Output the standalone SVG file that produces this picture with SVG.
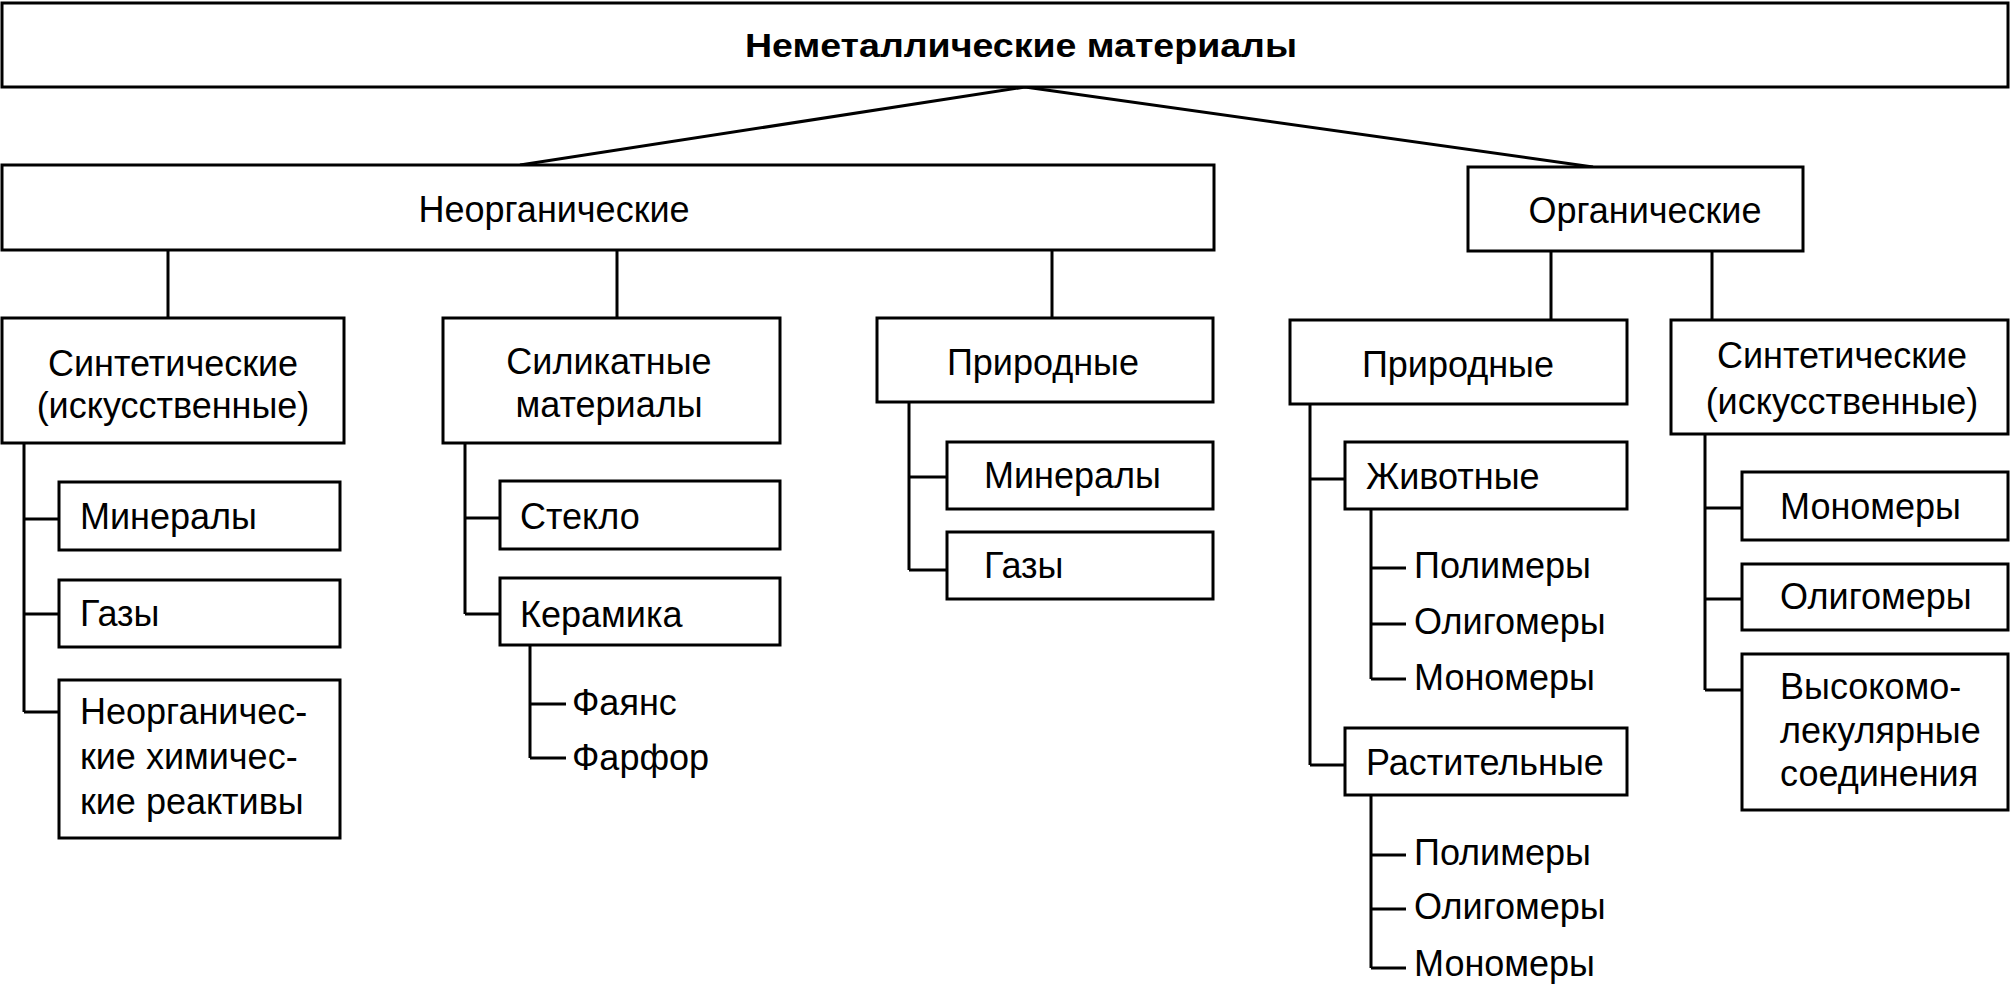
<svg xmlns="http://www.w3.org/2000/svg" width="2012" height="985" viewBox="0 0 2012 985">
<style>
.b{fill:#fff;stroke:#000;stroke-width:3}
.c{fill:none;stroke:#000;stroke-width:3}
text{font-family:"Liberation Sans",Arial,sans-serif;font-size:36px;fill:#000}
.t{font-weight:bold;font-size:33px}
.m{text-anchor:middle}
</style>
<rect width="2012" height="985" fill="#fff"/>
<g id="connectors">
<path class="c" d="M1025 87L520 165M1025 87L1593 167"/>
<path class="c" d="M168 250V318M617 250V318M1052 250V318M1551 251V320M1712 251V320"/>
<path class="c" d="M24 443V712M24 519H59M24 614H59M24 712H59"/>
<path class="c" d="M465 443V614M465 518H500M465 614H500"/>
<path class="c" d="M530 645V758M530 704H566M530 758H566"/>
<path class="c" d="M909 402V570M909 477H947M909 570H947"/>
<path class="c" d="M1310 404V765M1310 479H1345M1310 765H1345"/>
<path class="c" d="M1371 509V679M1371 568H1406M1371 624H1406M1371 679H1406"/>
<path class="c" d="M1371 795V968M1371 855H1406M1371 909H1406M1371 968H1406"/>
<path class="c" d="M1705 434V690M1705 508H1742M1705 599H1742M1705 690H1742"/>
</g>
<g id="root"><rect class="b" x="2" y="3" width="2006" height="84"/><text class="t m" x="1021" y="57" textLength="552" lengthAdjust="spacingAndGlyphs">Неметаллические материалы</text></g>
<g id="inorganic"><rect class="b" x="2" y="165" width="1212" height="85"/><text class="m" x="554" y="222">Неорганические</text></g>
<g id="organic"><rect class="b" x="1468" y="167" width="335" height="84"/><text class="m" x="1645" y="223">Органические</text></g>
<g id="inorg-synth"><rect class="b" x="2" y="318" width="342" height="125"/><text class="m" x="173" y="376">Синтетические</text><text class="m" x="173" y="418">(искусственные)</text></g>
<g id="inorg-synth-min"><rect class="b" x="59" y="482" width="281" height="68"/><text x="80" y="529">Минералы</text></g>
<g id="inorg-synth-gas"><rect class="b" x="59" y="580" width="281" height="67"/><text x="80" y="626">Газы</text></g>
<g id="inorg-synth-reag"><rect class="b" x="59" y="680" width="281" height="158"/><text x="80" y="724">Неорганичес-</text><text x="80" y="769">кие химичес-</text><text x="80" y="814">кие реактивы</text></g>
<g id="silicate"><rect class="b" x="443" y="318" width="337" height="125"/><text class="m" x="609" y="374">Силикатные</text><text class="m" x="609" y="417">материалы</text></g>
<g id="glass"><rect class="b" x="500" y="481" width="280" height="68"/><text x="520" y="529">Стекло</text></g>
<g id="ceramics"><rect class="b" x="500" y="578" width="280" height="67"/><text x="520" y="627">Керамика</text></g>
<g id="faience"><text x="572" y="715">Фаянс</text></g>
<g id="porcelain"><text x="572" y="770">Фарфор</text></g>
<g id="inorg-natural"><rect class="b" x="877" y="318" width="336" height="84"/><text class="m" x="1043" y="375">Природные</text></g>
<g id="inorg-nat-min"><rect class="b" x="947" y="442" width="266" height="67"/><text x="984" y="488">Минералы</text></g>
<g id="inorg-nat-gas"><rect class="b" x="947" y="532" width="266" height="67"/><text x="984" y="578">Газы</text></g>
<g id="org-natural"><rect class="b" x="1290" y="320" width="337" height="84"/><text class="m" x="1458" y="377">Природные</text></g>
<g id="animal"><rect class="b" x="1345" y="442" width="282" height="67"/><text x="1366" y="489">Животные</text></g>
<g id="animal-poly"><text x="1414" y="578">Полимеры</text></g>
<g id="animal-olig"><text x="1414" y="634">Олигомеры</text></g>
<g id="animal-mono"><text x="1414" y="690">Мономеры</text></g>
<g id="plant"><rect class="b" x="1345" y="728" width="282" height="67"/><text x="1366" y="775">Растительные</text></g>
<g id="plant-poly"><text x="1414" y="865">Полимеры</text></g>
<g id="plant-olig"><text x="1414" y="919">Олигомеры</text></g>
<g id="plant-mono"><text x="1414" y="976">Мономеры</text></g>
<g id="org-synth"><rect class="b" x="1671" y="320" width="337" height="114"/><text class="m" x="1842" y="368">Синтетические</text><text class="m" x="1842" y="414">(искусственные)</text></g>
<g id="org-synth-mono"><rect class="b" x="1742" y="472" width="266" height="68"/><text x="1780" y="519">Мономеры</text></g>
<g id="org-synth-olig"><rect class="b" x="1742" y="564" width="266" height="66"/><text x="1780" y="609">Олигомеры</text></g>
<g id="org-synth-hmw"><rect class="b" x="1742" y="654" width="266" height="156"/><text x="1780" y="699">Высокомо-</text><text x="1780" y="743">лекулярные</text><text x="1780" y="786">соединения</text></g>
</svg>
